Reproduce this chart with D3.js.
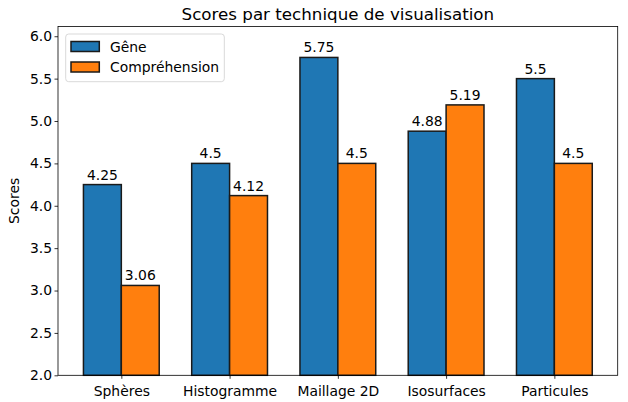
<!DOCTYPE html>
<html>
<head>
<meta charset="utf-8">
<script src="https://cdn.jsdelivr.net/npm/d3@7"></script>
<style>
  body { margin: 0; background: #fff; }
  text { font-family: "DejaVu Sans", sans-serif; fill: #000; }
</style>
</head>
<body>
<svg id="chart" width="628" height="402"></svg>
<script>
const categories = ['Sphères', 'Histogramme', 'Maillage 2D', 'Isosurfaces', 'Particules'];
const gene = [4.25, 4.5, 5.75, 4.88, 5.5];
const comprehension = [3.06, 4.12, 4.5, 5.19, 4.5];
const seriesNames = ['Gêne', 'Compréhension'];
const seriesColors = ['#1f77b4', '#ff7f0e'];
const yTicks = [2.0, 2.5, 3.0, 3.5, 4.0, 4.5, 5.0, 5.5, 6.0];

const BAR_WIDTH = 0.35;
const plotLeft = 58, plotRight = 617.7, plotTop = 26.5, plotBottom = 375.3;

const svg = d3.select('#chart');

const x = d3.scaleLinear().domain([-0.585, 4.585]).range([plotLeft, plotRight]);
const y = d3.scaleLinear().domain([2, 6.115]).range([plotBottom, plotTop]);

// bars
const series = [gene, comprehension];
series.forEach(function(values, s) {
    const offset = s === 0 ? -BAR_WIDTH : 0;
    const g = svg.append('g');
    g.selectAll('rect')
        .data(values)
        .join('rect')
        .attr('x', (d, i) => x(i + offset))
        .attr('y', d => y(d))
        .attr('width', x(BAR_WIDTH) - x(0))
        .attr('height', d => y(2) - y(d))
        .attr('fill', seriesColors[s])
        .attr('stroke', '#1a1a1a')
        .attr('stroke-width', 1.5);
    g.selectAll('text')
        .data(values)
        .join('text')
        .attr('x', (d, i) => x(i + offset + BAR_WIDTH / 2))
        .attr('y', d => y(d) - 5)
        .attr('text-anchor', 'middle')
        .attr('font-size', '13.9px')
        .text(d => d);
});

// axes
const xAxis = d3.axisBottom(x)
    .tickValues(d3.range(categories.length))
    .tickFormat(i => categories[i])
    .tickSize(3.5)
    .tickSizeOuter(0);
const gx = svg.append('g').attr('transform', `translate(0,${plotBottom})`).call(xAxis);

const yAxis = d3.axisLeft(y)
    .tickValues(yTicks)
    .tickFormat(d3.format('.1f'))
    .tickSize(3.5)
    .tickSizeOuter(0);
const gy = svg.append('g').attr('transform', `translate(${plotLeft},0)`).call(yAxis);

[gx, gy].forEach(function(g) {
    g.select('.domain').remove();
    g.selectAll('.tick line').attr('stroke', '#000').attr('stroke-width', 0.8);
    g.selectAll('.tick text').attr('font-size', '13.9px').attr('font-family', '"DejaVu Sans", sans-serif').attr('fill', '#000');
});
gx.selectAll('.tick text').attr('dy', '1.05em');
gy.selectAll('.tick text').attr('x', -6);

// frame
svg.append('rect')
    .attr('x', plotLeft).attr('y', plotTop)
    .attr('width', plotRight - plotLeft).attr('height', plotBottom - plotTop)
    .attr('fill', 'none').attr('stroke', '#000').attr('stroke-width', 0.8);

// title and label
svg.append('text')
    .attr('x', (plotLeft + plotRight) / 2).attr('y', plotTop - 7)
    .attr('text-anchor', 'middle')
    .attr('font-size', '16.7px')
    .text('Scores par technique de visualisation');

svg.append('text')
    .attr('transform', `translate(19,${(plotTop + plotBottom) / 2}) rotate(-90)`)
    .attr('text-anchor', 'middle')
    .attr('font-size', '13.9px')
    .text('Scores');

// legend
const legend = svg.append('g').attr('transform', 'translate(65.7,34)');
legend.append('rect')
    .attr('width', 158.6).attr('height', 47.7)
    .attr('rx', 3)
    .attr('fill', '#fff').attr('fill-opacity', 0.8)
    .attr('stroke', '#d9d9d9').attr('stroke-width', 1);
seriesNames.forEach(function(name, s) {
    legend.append('rect')
        .attr('x', 5.3).attr('y', 7.5 + s * 20.5)
        .attr('width', 28.3).attr('height', 10)
        .attr('fill', seriesColors[s])
        .attr('stroke', '#1a1a1a').attr('stroke-width', 1.5);
    legend.append('text')
        .attr('x', 44.3).attr('y', 17.5 + s * 20.5)
        .attr('font-size', '13.9px')
        .text(name);
});
</script>
</body>
</html>
